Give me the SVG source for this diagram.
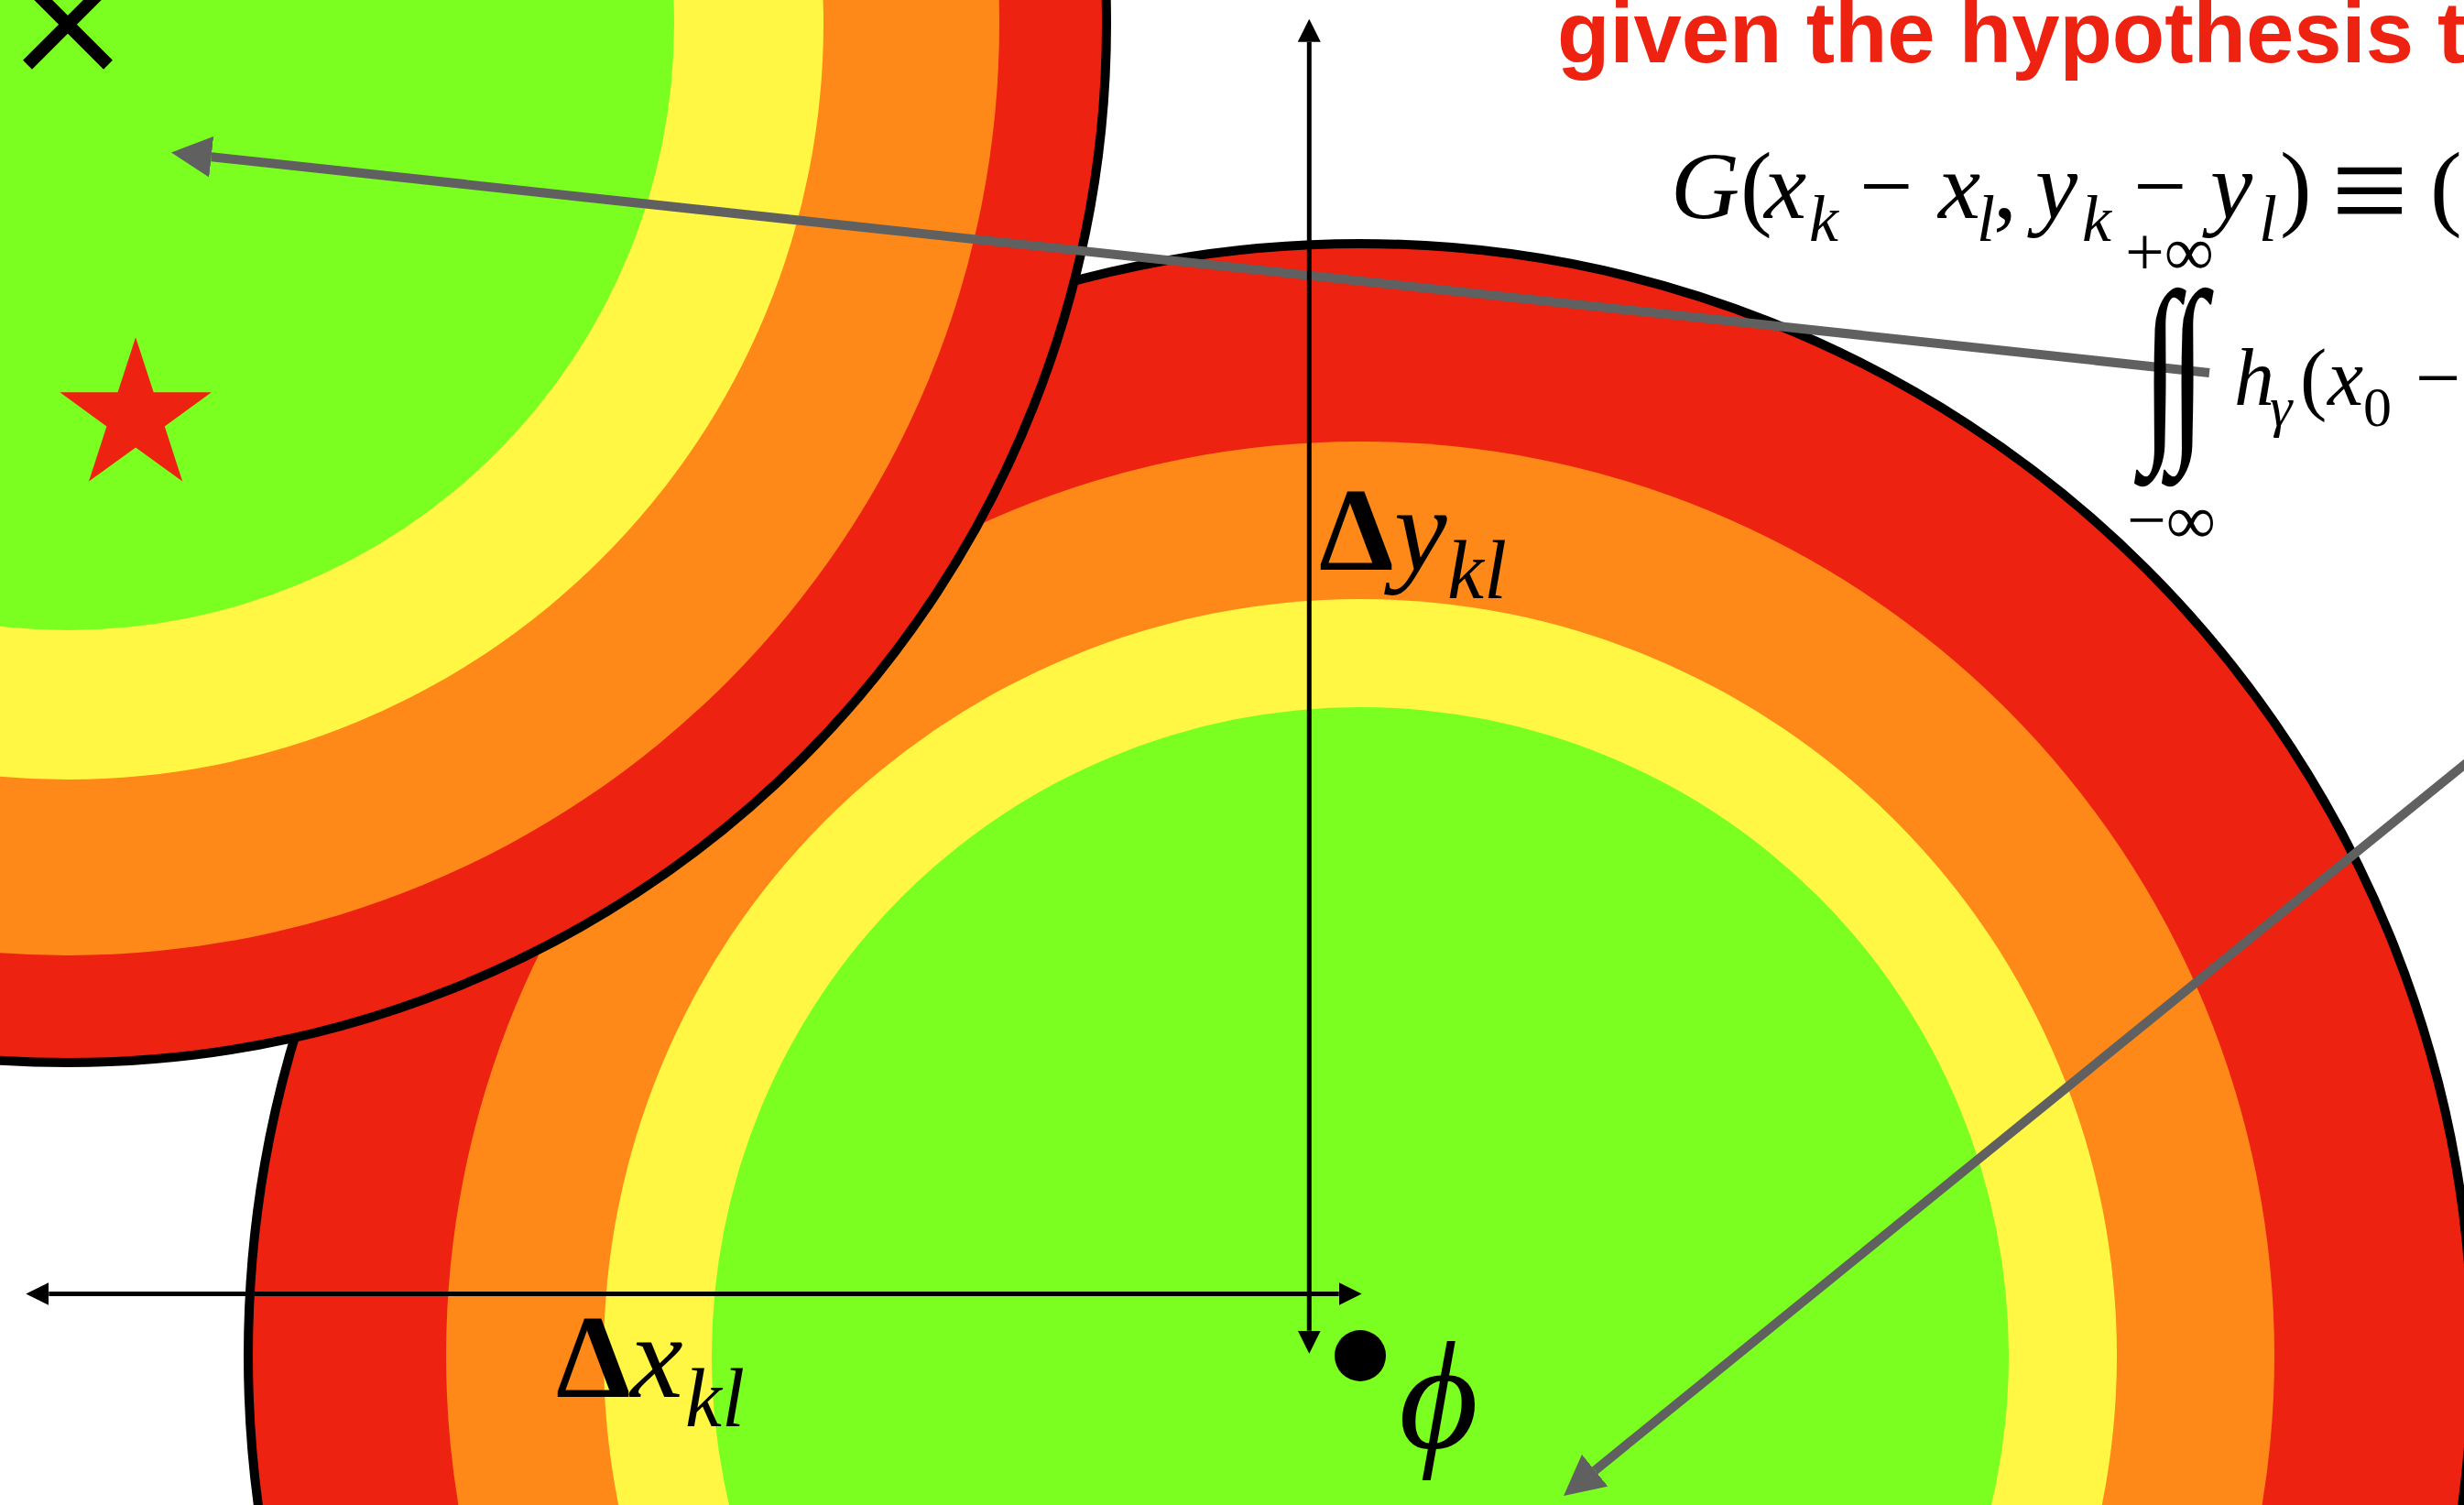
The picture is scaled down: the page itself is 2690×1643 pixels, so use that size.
<svg xmlns="http://www.w3.org/2000/svg" width="2690" height="1643" viewBox="0 0 2690 1643">
<style>
.red{fill:#ee2210}.org{fill:#fe8918}.yel{fill:#fff744}.grn{fill:#7bff20}
.ol{fill:none;stroke:#000;stroke-width:10}
.ax{stroke:#000;stroke-width:5;fill:none}
.gy{stroke:#606060;stroke-width:10;fill:none}
.m{font-family:"Liberation Serif","Times New Roman","DejaVu Serif",serif;fill:#000}
.i{font-style:italic}
.hd{font-family:"Liberation Sans",Arial,sans-serif;font-weight:bold;fill:#ee2210}
</style>
<defs>
<marker id="ah" markerUnits="userSpaceOnUse" markerWidth="25" markerHeight="25" viewBox="0 0 25 25" refX="0" refY="12.5" orient="auto-start-reverse"><path d="M0,0 L25,12.5 L0,25 z" fill="#000"/></marker>
<marker id="gh" markerUnits="userSpaceOnUse" markerWidth="44" markerHeight="45" viewBox="0 0 44 45" refX="0" refY="22.5" orient="auto"><path d="M0,0 L44,22.5 L0,45 z" fill="#606060"/></marker>
</defs>
<rect width="2690" height="1643" fill="#fff"/>
<g id="field-phi">
<circle class="red" cx="1485" cy="1480" r="1214"/>
<circle class="org" cx="1485" cy="1480" r="998"/>
<circle class="yel" cx="1485" cy="1480" r="826"/>
<circle class="grn" cx="1485" cy="1480" r="708"/>
<circle class="ol" cx="1485" cy="1480" r="1214"/>
</g>
<g id="field-x">
<circle class="red" cx="74" cy="26" r="1134"/>
<circle class="org" cx="74" cy="26" r="1017"/>
<circle class="yel" cx="74" cy="26" r="825"/>
<circle class="grn" cx="74" cy="26" r="662"/>
<circle class="ol" cx="74" cy="26" r="1134"/>
</g>
<g id="star">
<polygon class="red" points="148.1,368.2 167.67,428.26 230.84,428.32 179.77,465.49 199.24,525.58 148.1,488.5 96.96,525.58 116.43,465.49 65.36,428.32 128.53,428.26"/>
</g>
<g id="cross">
<path d="M30,70.8 L118,-17.2 M30,-17.2 L118,70.8" stroke="#000" stroke-width="14" fill="none"/>
</g>
<g id="connectors">
<line class="gy" x1="2412" y1="407" x2="230.7" y2="171.2" marker-end="url(#gh)"/>
<line class="gy" x1="2700" y1="827" x2="1741.2" y2="1605.3" marker-end="url(#gh)"/>
<line class="ax" x1="53.3" y1="1412.5" x2="1461.7" y2="1412.5" marker-start="url(#ah)" marker-end="url(#ah)"/>
<line class="ax" x1="1429.3" y1="1452.7" x2="1429.3" y2="45.7" marker-start="url(#ah)" marker-end="url(#ah)"/>
</g>
<g id="phi-point">
<circle cx="1485" cy="1480" r="28" fill="#000"/>
<text class="m i" x="1527" y="1580" font-size="168">ϕ</text>
</g>
<g id="label-dy">
<text class="m" x="1440" y="621.7" font-size="130" font-weight="bold">Δ</text>
<text class="m i" x="1522" y="621.7" font-size="130">y</text>
<text class="m i" x="1580" y="653" font-size="90">kl</text>
</g>
<g id="label-dx">
<text class="m" x="607" y="1525" font-size="130" font-weight="bold">Δ</text>
<text class="m i" x="688" y="1525" font-size="130">x</text>
<text class="m i" x="748" y="1557" font-size="90">kl</text>
</g>
<g id="heading">
<text class="hd" x="1700" y="68" font-size="94">given the hypothesis t</text>
</g>
<g id="formula">
<text class="m i" x="1824" y="238" font-size="104">G</text>
<text class="m" x="1900" y="238" font-size="104">(</text>
<text class="m i" x="1926" y="238" font-size="104">x</text>
<text class="m i" x="1975" y="263" font-size="72">k</text>
<text class="m" x="2030" y="238" font-size="104">−</text>
<text class="m i" x="2116" y="238" font-size="104">x</text>
<text class="m i" x="2158" y="263" font-size="72">l</text>
<text class="m" x="2176" y="238" font-size="104">,</text>
<text class="m i" x="2222" y="238" font-size="104">y</text>
<text class="m i" x="2273" y="263" font-size="72">k</text>
<text class="m" x="2329" y="238" font-size="104">−</text>
<text class="m i" x="2413" y="238" font-size="104">y</text>
<text class="m i" x="2466" y="263" font-size="72">l</text>
<text class="m" x="2489" y="238" font-size="104">)</text>
<text class="m" x="2545" y="258" font-size="150">≡</text>
<text class="m" x="2653" y="238" font-size="104">(</text>
<text class="m" x="2320" y="300" font-size="76">+∞</text>
<text class="m" x="2322" y="593" font-size="76">−∞</text>
<g transform="translate(0,472) scale(1,1.48)">
<text class="m" x="2338" y="0" font-size="150">∫</text>
<text class="m" x="2368" y="0" font-size="150">∫</text>
</g>
<text class="m i" x="2439" y="442" font-size="88">h</text>
<text class="m i" x="2478" y="465" font-size="62">γ</text>
<text class="m" x="2511" y="442" font-size="88">(</text>
<text class="m i" x="2541" y="442" font-size="88">x</text>
<text class="m" x="2580" y="465" font-size="62">0</text>
<text class="m" x="2637" y="442" font-size="88">−</text>
</g>
</svg>
